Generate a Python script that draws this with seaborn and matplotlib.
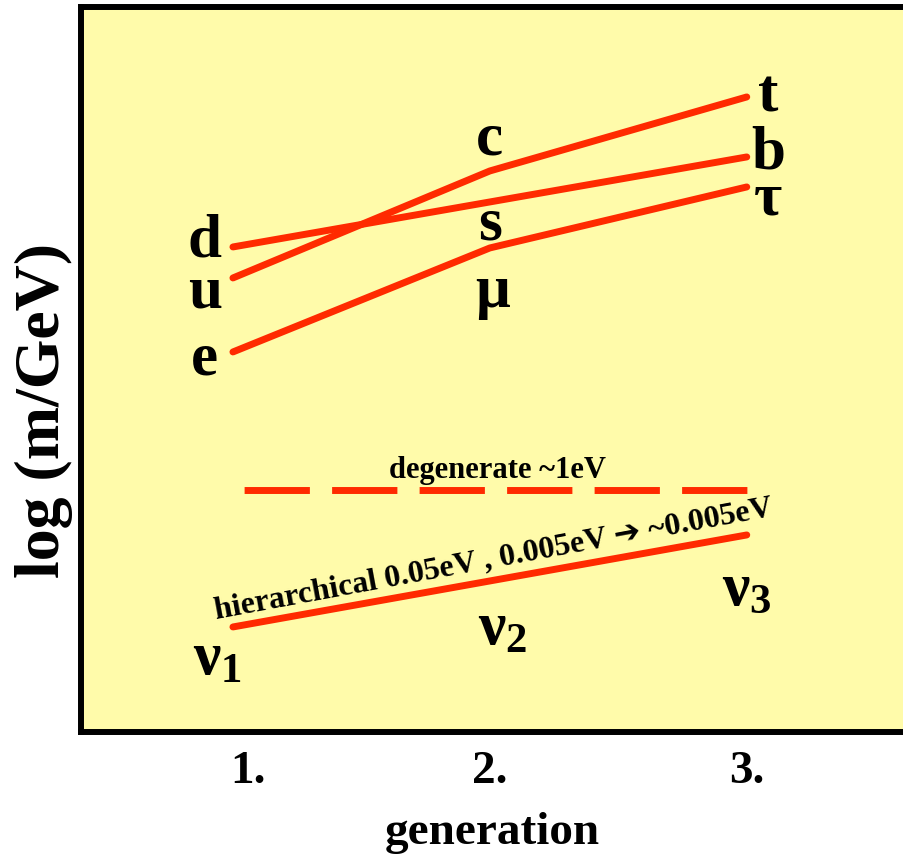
import numpy as np
import pandas as pd
import seaborn as sns
import matplotlib.pyplot as plt
from matplotlib.transforms import ScaledTranslation

# generation index and log-mass (arbitrary units)
generation = [1, 2, 3]
up_quarks = [4.54, 5.61, 6.35]
down_quarks = [4.85, 5.30, 5.75]
leptons = [3.80, 4.84, 5.45]
neutrinos = [1.05, 1.51, 1.97]
degenerate = [2.42, 2.42, 2.42]

up_names = ['u', 'c', 't']
down_names = ['d', 's', 'b']
lepton_names = ['e', '\u03bc', '\u03c4']
nu_names = [r'$\nu_1$', r'$\nu_2$', r'$\nu_3$']
tick_labels = ['1.', '2.', '3.']

RED = '#ff2a00'
YELLOW = '#fffbaa'

sns.set_style('white')
plt.rcParams['font.family'] = ['Liberation Serif', 'DejaVu Sans']
plt.rcParams['font.weight'] = 'bold'
plt.rcParams['text.color'] = 'black'
plt.rcParams['axes.labelcolor'] = 'black'
plt.rcParams['xtick.color'] = 'black'
plt.rcParams['mathtext.fontset'] = 'custom'
plt.rcParams['mathtext.rm'] = 'Liberation Serif:bold'
plt.rcParams['mathtext.it'] = 'Liberation Serif:bold'
plt.rcParams['mathtext.bf'] = 'Liberation Serif:bold'

fig = plt.figure(figsize=(9.04, 8.58), dpi=100)
ax = fig.add_axes([0.0896, 0.1469, 0.93, 0.845])
ax.set_facecolor(YELLOW)

df = pd.DataFrame({'generation': generation, 'up': up_quarks, 'down': down_quarks,
                   'lepton': leptons, 'nu': neutrinos, 'deg': degenerate})

for col in ['up', 'down', 'lepton', 'nu']:
    sns.lineplot(data=df, x='generation', y=col, ax=ax, color=RED, lw=5, sort=False)
sns.lineplot(data=df, x='generation', y='deg', ax=ax, color=RED, lw=5, sort=False)
ax.lines[-1].set_linestyle((11.0, (9.4, 3.2)))
ax.lines[-1].set_dash_capstyle('butt')

# particle names
txt = dict(fontsize=44, fontweight='bold', ha='center', va='center', color='black')
ax.text(0.891, down_quarks[0] + 0.05, down_names[0], **txt)
ax.text(0.891, up_quarks[0] - 0.15, up_names[0], **txt)
ax.text(0.891, leptons[0] - 0.08, lepton_names[0], **txt)
ax.text(2.0, up_quarks[1] + 0.31, up_names[1], **txt)
ax.text(2.0, down_quarks[1] - 0.23, down_names[1], **txt)
ax.text(2.01, leptons[1] - 0.44, lepton_names[1], **txt)
ax.text(3.082, up_quarks[2], up_names[2], **txt)
ax.text(3.082, down_quarks[2] + 0.03, down_names[2], **txt)
ax.text(3.082, leptons[2] - 0.13, lepton_names[2], **txt)

ax.text(0.94, neutrinos[0] - 0.33, nu_names[0], fontsize=44, ha='center', va='center')
ax.text(2.05, neutrinos[1] - 0.49, nu_names[1], fontsize=44, ha='center', va='center')
ax.text(3.0, neutrinos[2] - 0.55, nu_names[2], fontsize=44, ha='center', va='center')

ax.text(2.03, degenerate[0] + 0.19, 'degenerate ~1eV', fontsize=22,
        fontweight='bold', ha='center', va='center')
ax.text(2.016, neutrinos[1] + 0.22,
        'hierarchical 0.05eV , 0.005eV \u2794 ~0.005eV', fontsize=23,
        fontweight='bold', ha='center', va='center', rotation=10.5,
        rotation_mode='anchor')

ax.set_xlim(0.4086, 3.681)
ax.set_ylim(0, 7.25)
ax.set_xticks(generation)
ax.set_xticklabels(tick_labels, fontsize=34, fontweight='bold')
ax.set_yticks([])
ax.tick_params(axis='x', length=0, pad=14)
first = ax.get_xticklabels()[0]
first.set_transform(first.get_transform() + ScaledTranslation(0.15, 0, fig.dpi_scale_trans))

ax.set_xlabel('generation', fontsize=34, fontweight='bold')
ax.set_ylabel('log (m/GeV)', fontsize=46, fontweight='bold')
ax.xaxis.set_label_coords(0.489, -0.11)
ax.yaxis.set_label_coords(-0.01, 0.443)

for side in ['left', 'top', 'bottom']:
    ax.spines[side].set_linewidth(4.3)
    ax.spines[side].set_color('black')
ax.spines['right'].set_visible(False)

fig.savefig('out.png', dpi=100)
